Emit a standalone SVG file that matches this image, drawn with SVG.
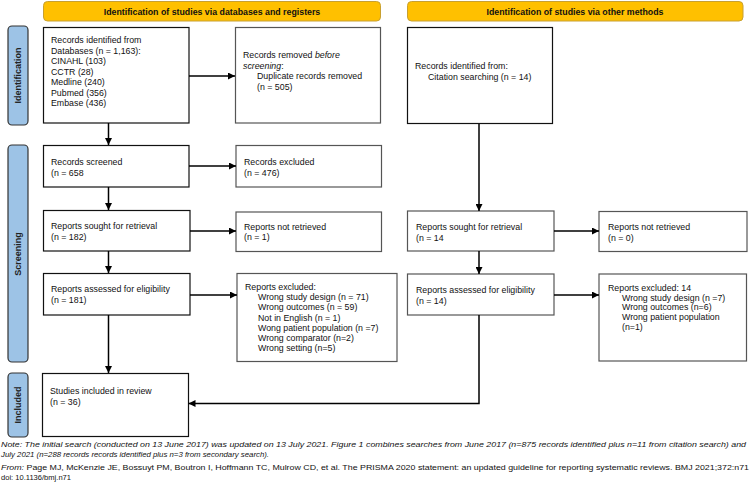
<svg xmlns="http://www.w3.org/2000/svg" width="752" height="483" viewBox="0 0 752 483">
<defs>
<marker id="ah" viewBox="0 0 10 10" refX="10" refY="5" markerWidth="7" markerHeight="7" markerUnits="userSpaceOnUse" orient="auto"><path d="M0,0 L10,5 L0,10 z" fill="#000"/></marker>
<style>
text{font-family:"Liberation Sans",Arial,sans-serif;font-size:8.8px;fill:#111}
.hdr rect{fill:#ffc000;stroke:#c8a030;stroke-width:1}
.hdr text{font-weight:bold;text-anchor:middle}
.bar rect{fill:#9dc3e6;stroke:#333;stroke-width:1.2}
.bar text{font-weight:bold;font-size:9px;text-anchor:middle;fill:#222}
.main{fill:#fff;stroke:#111;stroke-width:1.2}
.side{fill:#fff;stroke:#555;stroke-width:1.2}
.con path{fill:none;stroke:#000;stroke-width:1.5}
.note{font-size:7.5px}
</style>
</defs>
<rect width="752" height="483" fill="#fff"/>
<g id="hdr1" class="hdr"><rect x="43.5" y="1.5" width="337" height="19.5" rx="4"/><text x="212" y="14.5">Identification of studies via databases and registers</text></g>
<g id="hdr2" class="hdr"><rect x="407.5" y="1.5" width="335.5" height="19.5" rx="4"/><text x="575" y="14.5">Identification of studies via other methods</text></g>
<g id="bar1" class="bar"><rect x="8" y="26" width="20" height="99" rx="4"/><text transform="translate(21 75.5) rotate(-90)">Identification</text></g>
<g id="bar2" class="bar"><rect x="8" y="145" width="20" height="217" rx="4"/><text transform="translate(21 254) rotate(-90)">Screening</text></g>
<g id="bar3" class="bar"><rect x="8" y="373" width="20" height="64" rx="4"/><text transform="translate(21 405) rotate(-90)">Included</text></g>
<g id="identified"><rect class="main" x="43.5" y="27.5" width="145.5" height="95.5"/>
<text x="51" y="43">Records identified from</text><text x="51" y="53.5">Databases (n = 1,163):</text><text x="51" y="64">CINAHL (103)</text><text x="51" y="74.5">CCTR (28)</text><text x="51" y="85">Medline (240)</text><text x="51" y="95.5">Pubmed (356)</text><text x="51" y="106">Embase (436)</text></g>
<g id="removed"><rect class="side" x="235.5" y="27.5" width="145" height="95.5"/>
<text x="243" y="58">Records removed <tspan font-style="italic">before</tspan></text><text x="243" y="68.5"><tspan font-style="italic">screening</tspan>:</text><text x="257" y="79">Duplicate records removed</text><text x="257" y="89.5">(n = 505)</text></g>
<g id="citation"><rect class="main" x="407.5" y="27.5" width="145" height="96"/>
<text x="415" y="69">Records identified from:</text><text x="428" y="79.5">Citation searching (n = 14)</text></g>
<g id="screened"><rect class="main" x="43.5" y="145.5" width="145.5" height="41.5"/><text x="51" y="165">Records screened</text><text x="51" y="175.5">(n = 658</text></g>
<g id="excluded1"><rect class="side" x="236" y="145.5" width="145.5" height="41.5"/><text x="244" y="165">Records excluded</text><text x="244" y="175.5">(n = 476)</text></g>
<g id="sought1"><rect class="main" x="43.5" y="210.5" width="146.5" height="40.5"/><text x="51" y="229">Reports sought for retrieval</text><text x="51" y="239.5">(n = 182)</text></g>
<g id="notret1"><rect class="side" x="236" y="212" width="145.5" height="39.5"/><text x="244" y="229.5">Reports not retrieved</text><text x="244" y="240">(n = 1)</text></g>
<g id="elig1"><rect class="main" x="43.5" y="273.5" width="146.5" height="41.5"/><text x="51" y="292">Reports assessed for eligibility</text><text x="51" y="302.5">(n = 181)</text></g>
<g id="excl1"><rect class="side" x="237" y="273.5" width="160" height="88"/>
<text x="245" y="290">Reports excluded:</text><text x="258" y="300.2">Wrong study design (n = 71)</text><text x="258" y="310.4">Wrong outcomes (n = 59)</text><text x="258" y="320.6">Not in English (n = 1)</text><text x="258" y="330.8">Wong patient population (n =7)</text><text x="258" y="341">Wrong comparator (n=2)</text><text x="258" y="351.2">Wrong setting (n=5)</text></g>
<g id="sought2"><rect class="side" x="407.5" y="211" width="146.5" height="40"/><text x="416" y="230">Reports sought for retrieval</text><text x="416" y="240.5">(n = 14</text></g>
<g id="notret2"><rect class="side" x="599" y="211.5" width="148" height="40"/><text x="608" y="230">Reports not retrieved</text><text x="608" y="240.5">(n = 0)</text></g>
<g id="elig2"><rect class="side" x="407.5" y="274" width="146.5" height="41"/><text x="416" y="293">Reports assessed for eligibility</text><text x="416" y="303.5">(n = 14)</text></g>
<g id="excl2"><rect class="side" x="599" y="274" width="147.5" height="87"/>
<text x="608" y="291">Reports excluded: 14</text><text x="622" y="300.8">Wrong study design (n =7)</text><text x="622" y="310.4">Wrong outcomes (n=6)</text><text x="622" y="320">Wrong patient population</text><text x="622" y="329.6">(n=1)</text></g>
<g id="included"><rect class="main" x="42.5" y="373.5" width="146" height="63"/><text x="50" y="394">Studies included in review</text><text x="50" y="404.5">(n = 36)</text></g>
<g id="connectors" class="con">
<path d="M189,76 H235" marker-end="url(#ah)"/>
<path d="M108.5,123 V145" marker-end="url(#ah)"/>
<path d="M189,166 H236" marker-end="url(#ah)"/>
<path d="M108.5,187 V210" marker-end="url(#ah)"/>
<path d="M190,231 H236" marker-end="url(#ah)"/>
<path d="M108.5,251 V273" marker-end="url(#ah)"/>
<path d="M190,295 H237" marker-end="url(#ah)"/>
<path d="M108.5,315 V373" marker-end="url(#ah)"/>
<path d="M479,124 V211" marker-end="url(#ah)"/>
<path d="M554,231 H599" marker-end="url(#ah)"/>
<path d="M479,251 V274" marker-end="url(#ah)"/>
<path d="M554,295 H599" marker-end="url(#ah)"/>
<path d="M479,315 V403.5 H188.5" marker-end="url(#ah)"/>
</g>
<g id="notes">
<text class="note" x="1" y="447" font-style="italic" textLength="745" lengthAdjust="spacingAndGlyphs">Note: The initial search (conducted on 13 June 2017) was updated on 13 July 2021. Figure 1 combines searches from June 2017 (n=875 records identified plus n=11 from citation search) and</text>
<text class="note" x="1" y="457" font-style="italic" textLength="268" lengthAdjust="spacingAndGlyphs">July 2021 (n=288 records records identified plus n=3 from secondary search).</text>
<text class="note" x="1" y="470" textLength="748" lengthAdjust="spacingAndGlyphs"><tspan font-style="italic">From:</tspan>  Page MJ, McKenzie JE, Bossuyt PM, Boutron I, Hoffmann TC, Mulrow CD, et al. The PRISMA 2020 statement: an updated guideline for reporting systematic reviews. BMJ 2021;372:n71</text>
<text class="note" x="1" y="480" textLength="70" lengthAdjust="spacingAndGlyphs">doi: 10.1136/bmj.n71</text>
</g>
</svg>
